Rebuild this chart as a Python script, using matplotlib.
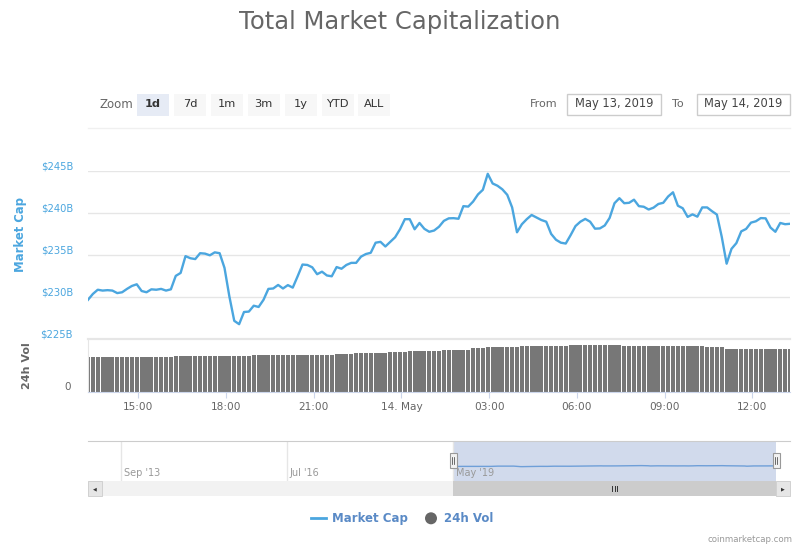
import numpy as np
import pandas as pd
import matplotlib
matplotlib.use("Agg")
import matplotlib.pyplot as plt
import matplotlib.dates as mdates
from matplotlib.ticker import FuncFormatter
from matplotlib.patches import Rectangle, Ellipse
from matplotlib.lines import Line2D

# Данные: капитализация рынка (млрд $), шаг 10 минут
start_time = "2019-05-13 13:17"
market_cap = [
    229.7, 230.4, 230.9, 230.8, 230.85, 230.8, 230.5, 230.6, 231.0, 231.35, 231.55, 230.75,
    230.6, 230.95, 230.9, 231.0, 230.8, 230.95, 232.55, 232.9, 234.9, 234.65, 234.55, 235.25,
    235.2, 235.0, 235.35, 235.25, 233.5, 230.1, 227.2, 226.8, 228.25, 228.3, 229.0, 228.85,
    229.7, 231.0, 231.05, 231.47, 231.05, 231.45, 231.15, 232.5, 233.9, 233.85, 233.57, 232.75,
    233.05, 232.6, 232.5, 233.6, 233.4, 233.85, 234.1, 234.1, 234.84, 235.15, 235.3, 236.5,
    236.6, 236.05, 236.6, 237.15, 238.1, 239.3, 239.3, 238.1, 238.85, 238.15, 237.8, 237.95,
    238.4, 239.1, 239.4, 239.42, 239.35, 240.85, 240.8, 241.4, 242.25, 242.8, 244.7, 243.55,
    243.28, 242.85, 242.2, 240.7, 237.74, 238.7, 239.3, 239.8, 239.5, 239.2, 239.0, 237.55,
    236.85, 236.5, 236.4, 237.4, 238.48, 239.0, 239.33, 239.0, 238.17, 238.2, 238.55, 239.45,
    241.2, 241.8, 241.2, 241.25, 241.62, 240.85, 240.78, 240.45, 240.67, 241.11, 241.25, 242.0,
    242.5, 240.9, 240.6, 239.57, 239.87, 239.6, 240.7, 240.7, 240.25, 239.85, 237.2, 234.0,
    235.77, 236.45, 237.85, 238.14, 238.89, 239.05, 239.43, 239.4, 238.3, 237.8, 238.85, 238.7,
    238.75,
]

# Объём за 24 часа (млрд $)
volume_24h = [
    70.6, 70.6, 70.6, 70.6, 70.6, 70.6, 70.6, 70.6, 70.6, 70.6, 70.6, 70.6,
    70.6, 70.6, 70.6, 70.6, 70.6, 70.6, 72.6, 72.6, 72.6, 72.6, 72.6, 72.6,
    72.6, 72.6, 72.6, 72.6, 72.6, 72.6, 72.6, 72.6, 72.6, 72.6, 74.0, 74.0,
    74.0, 74.0, 74.0, 74.0, 74.0, 74.0, 74.0, 74.0, 74.0, 74.0, 74.0, 74.0,
    74.0, 74.0, 74.0, 76.0, 76.0, 76.0, 76.0, 78.0, 78.0, 78.0, 78.0, 78.0,
    78.0, 78.0, 80.0, 80.0, 80.0, 80.0, 82.0, 82.0, 82.0, 82.0, 82.0, 82.0,
    82.0, 84.0, 84.0, 84.0, 84.0, 84.0, 84.0, 87.4, 87.4, 87.4, 90.0, 90.0,
    90.0, 90.0, 90.0, 90.0, 90.0, 92.0, 92.0, 92.0, 92.0, 92.0, 92.0, 92.0,
    92.0, 92.0, 92.0, 94.0, 94.0, 94.0, 94.0, 94.0, 94.0, 94.0, 94.0, 94.0,
    94.0, 94.0, 92.0, 92.0, 92.0, 92.0, 92.0, 92.0, 92.0, 92.0, 92.0, 92.0,
    92.0, 92.0, 92.0, 92.0, 92.0, 92.0, 92.0, 90.0, 90.0, 90.0, 90.0, 86.0,
    86.0, 86.0, 86.0, 86.0, 86.0, 86.0, 86.0, 86.0, 86.0, 86.0, 86.0, 86.0,
    86.0,
]

cap_ticks = [225, 230, 235, 240, 245]
cap_labels = ["$225B", "$230B", "$235B", "$240B", "$245B"]
zoom_buttons = ["1d", "7d", "1m", "3m", "1y", "YTD", "ALL"]
date_from = "May 13, 2019"
date_to = "May 14, 2019"
nav_labels = ["Sep '13", "Jul '16", "May '19"]

times = pd.date_range(start_time, periods=len(market_cap), freq="10min")

LINE = "#4ba6df"
GRID = "#e6e6e6"
W, H = 800, 550


# пиксели -> доли фигуры
def fx(x):
    return x / W


def fy(y):
    return 1 - y / H


fig = plt.figure(figsize=(8, 5.5), dpi=100)

# Заголовок
fig.text(0.5, fy(22), "Total Market Capitalization", ha="center", va="center",
         fontsize=17.5, color="#666666")

# Кнопки Zoom
fig.text(fx(99), fy(104), "Zoom", ha="left", va="center", fontsize=8.5, color="#666666")
for i, name in enumerate(zoom_buttons):
    x0 = 137 + i * 36.9
    fc = "#e6ebf5" if i == 0 else "#f7f7f7"
    fig.add_artist(Rectangle((fx(x0), fy(115.7)), 32 / W, 21.4 / H, transform=fig.transFigure,
                             fc=fc, ec="none"))
    fig.text(fx(x0 + 16), fy(104), name, ha="center", va="center", fontsize=8.2,
             color="#333333", fontweight="bold" if i == 0 else "normal")

# From / To
fig.text(fx(530), fy(104), "From", ha="left", va="center", fontsize=8, color="#666666")
fig.add_artist(Rectangle((fx(566.5), fy(115.3)), 94.5 / W, 21 / H, transform=fig.transFigure,
                         fc="white", ec="#cccccc", lw=1))
fig.text(fx(613.7), fy(104), date_from, ha="center", va="center", fontsize=8.3, color="#444444")
fig.text(fx(672), fy(104), "To", ha="left", va="center", fontsize=8, color="#666666")
fig.add_artist(Rectangle((fx(696.5), fy(115.3)), 93.5 / W, 21 / H, transform=fig.transFigure,
                         fc="white", ec="#cccccc", lw=1))
fig.text(fx(743.2), fy(104), date_to, ha="center", va="center", fontsize=8.3, color="#444444")
fig.add_artist(Line2D([fx(88), fx(790)], [fy(128.3), fy(128.3)], transform=fig.transFigure,
                      color="#f0f0f0", lw=1))

# Основной график капитализации
ax = fig.add_axes([fx(88), fy(339.3), 702 / W, 168 / H])
ax.plot(times, market_cap, color=LINE, lw=1.7)
ax.set_xlim(times[0], times[-1])
ax.set_ylim(225, 245)
ax.set_yticks(cap_ticks)
ax.set_yticklabels(cap_labels, color=LINE, fontsize=7.2, va="bottom")
ax.tick_params(axis="y", length=0, pad=10.8)
ax.tick_params(axis="x", bottom=False, labelbottom=False)
ax.grid(axis="y", color=GRID, lw=1)
for s in ax.spines.values():
    s.set_visible(False)
fig.text(fx(21), fy(234), "Market Cap", rotation=90, ha="center", va="center",
         fontsize=8.4, fontweight="bold", color=LINE)

# Объём
axv = fig.add_axes([fx(88), fy(391.7), 702 / W, 52.4 / H], sharex=ax)
axv.bar(times, volume_24h, width=10 / 1440 * 0.86, color="#777777", edgecolor="none")
axv.set_xlim(times[0], times[-1])
axv.set_ylim(0, 106)
axv.set_yticks([0])
axv.set_yticklabels(["0"], va="bottom", color="#666666", fontsize=7.5)
axv.tick_params(axis="y", length=0, pad=12)
axv.xaxis.set_major_locator(mdates.HourLocator(byhour=range(0, 24, 3)))


def time_label(v, pos):
    d = mdates.num2date(v)
    if d.hour == 0:
        return d.strftime("%d. %b").lstrip("0")
    return d.strftime("%H:%M")


axv.xaxis.set_major_formatter(FuncFormatter(time_label))
axv.tick_params(axis="x", length=4.5, color="#ccd6eb", labelsize=7.6, labelcolor="#666666", pad=3)
axv.spines["right"].set_visible(False)
axv.spines["top"].set_color(GRID)
axv.spines["top"].set_linewidth(1.6)
axv.spines["left"].set_color(GRID)
axv.spines["bottom"].set_color("#ccd6eb")
fig.text(fx(27), fy(365.5), "24h Vol", rotation=90, ha="center", va="center",
         fontsize=8, fontweight="bold", color="#666666")

# Навигатор
axn = fig.add_axes([fx(88), fy(481), 702 / W, 40 / H])
per_px = (times[-1] - times[0]) / 323
axn.set_xlim(times[0] - per_px * 365, times[-1] + per_px * 14)
axn.set_ylim(0, 632)
axn.axvspan(times[0], times[-1], color="#d1daec", lw=0)
axn.plot(times, market_cap, color="#6f9fd8", lw=1)
for f, lab in zip([0.0466, 0.2832, 0.52], nav_labels):
    axn.plot([f, f], [0, 1], transform=axn.transAxes, color=GRID, lw=1)
    axn.text(f + 0.004, 0.2, lab, transform=axn.transAxes, ha="left", va="center",
             fontsize=7, color="#999999")
axn.set_xticks([])
axn.set_yticks([])
for name, s in axn.spines.items():
    s.set_visible(name == "top")
axn.spines["top"].set_color("#cccccc")

# Ручки навигатора
for hx in [453, 776]:
    fig.add_artist(Rectangle((fx(hx - 3.5), fy(468)), 7 / W, 15 / H, transform=fig.transFigure,
                             fc="#f2f2f2", ec="#999999", lw=0.8, zorder=3))
    for dx in [-1, 1]:
        fig.add_artist(Line2D([fx(hx + dx), fx(hx + dx)], [fy(464), fy(457)],
                              transform=fig.transFigure, color="#333333", lw=0.5, zorder=4))

# Полоса прокрутки
fig.add_artist(Rectangle((fx(88), fy(495.5)), 702 / W, 14.5 / H, transform=fig.transFigure,
                         fc="#f2f2f2", ec="none"))
fig.add_artist(Rectangle((fx(453), fy(495.5)), 323 / W, 14.5 / H, transform=fig.transFigure,
                         fc="#cccccc", ec="none"))
for bx in [88, 776]:
    fig.add_artist(Rectangle((fx(bx), fy(495.5)), 14 / W, 14.5 / H, transform=fig.transFigure,
                             fc="#e6e6e6", ec="#cccccc", lw=0.6))
fig.text(fx(95), fy(488.5), "◀", ha="center", va="center", fontsize=3.5, color="#333333")
fig.text(fx(783), fy(488.5), "▶", ha="center", va="center", fontsize=3.5, color="#333333")
for gx in [612, 614.5, 617]:
    fig.add_artist(Line2D([fx(gx), fx(gx)], [fy(491), fy(486)], transform=fig.transFigure,
                          color="#333333", lw=0.7, zorder=4))

# Легенда
fig.add_artist(Line2D([fx(311), fx(326)], [fy(518.3), fy(518.3)], transform=fig.transFigure,
                      color=LINE, lw=2))
fig.text(fx(332), fy(518.3), "Market Cap", ha="left", va="center", fontsize=8.5,
         fontweight="bold", color="#5a8ac6")
fig.add_artist(Ellipse((fx(431), fy(518.3)), 12 / W, 12 / H, transform=fig.transFigure,
                       fc="#666666", ec="none"))
fig.text(fx(444), fy(518.3), "24h Vol", ha="left", va="center", fontsize=8.5,
         fontweight="bold", color="#5a8ac6")

fig.text(fx(792), fy(540), "coinmarketcap.com", ha="right", va="center", fontsize=6.2,
         color="#999999")

fig.savefig("out.png", dpi=100)
